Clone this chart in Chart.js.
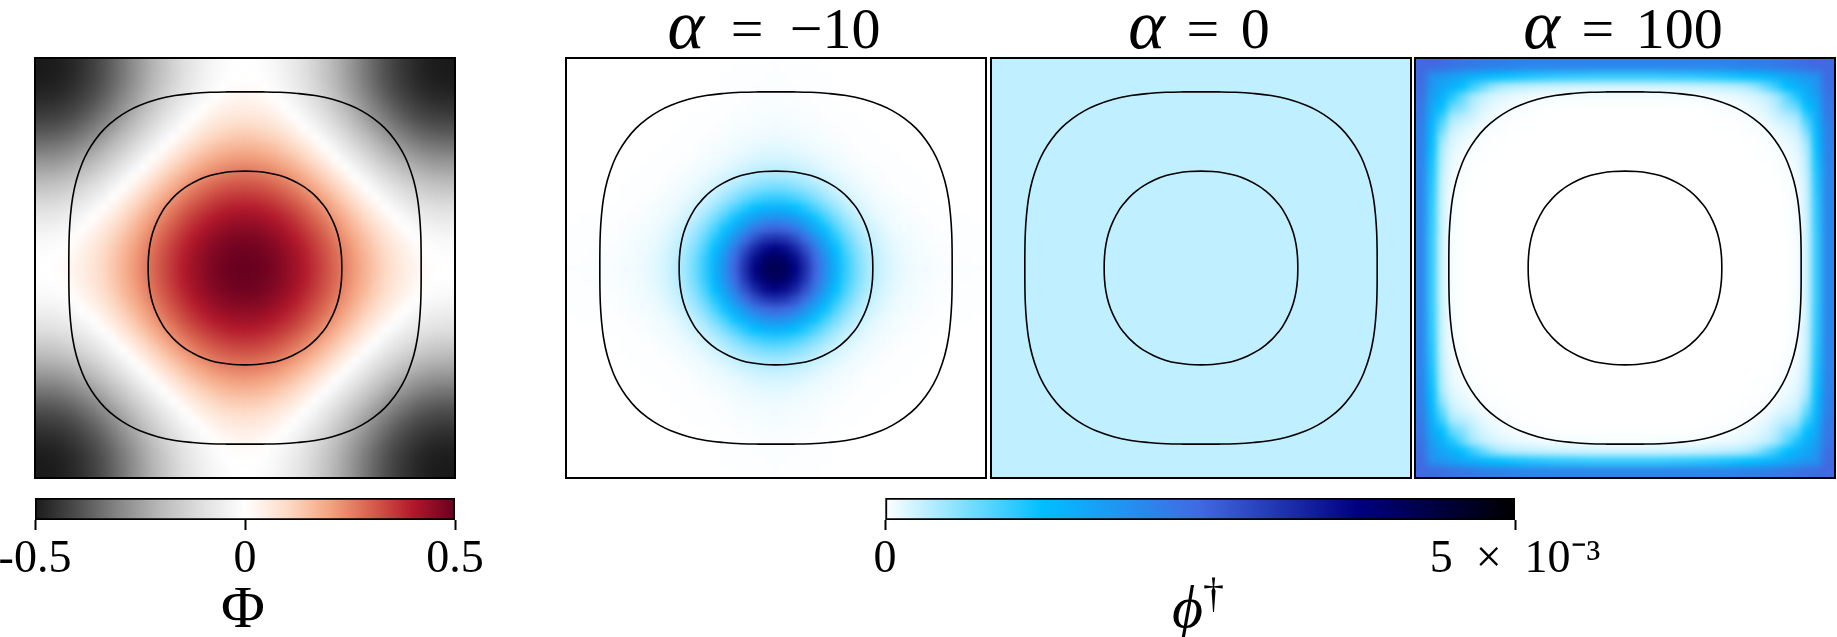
<!DOCTYPE html>
<html>
<head>
<meta charset="utf-8">
<script src="https://cdn.jsdelivr.net/npm/chart.js@4/dist/chart.umd.min.js"></script>
<style>
html,body{margin:0;padding:0;background:#fff;}
#page{position:relative;width:1837px;height:637px;overflow:hidden;font-family:"Liberation Serif",serif;color:#000;}
.heat{position:absolute;overflow:hidden;width:420px;height:420px;top:58px;}
.heat canvas{position:absolute;left:-20px;top:-20px;filter:blur(3.5px);}
.over{position:absolute;top:56px;}
.cbar{position:absolute;top:490px;}
.txt{position:absolute;white-space:pre;line-height:1;transform:translateX(-50%);will-change:transform;}
.title{font-size:58px;top:0px;word-spacing:7px;}
.title i{font-size:70px;line-height:50px;}
.lab{font-size:60px;top:577px;}
.lab sup{font-size:42px;line-height:0;vertical-align:20px;}
</style>
</head>
<body>
<div id="page">
  <div class="txt title" style="left:774px;word-spacing:12px"><i>α</i> = −10</div>
  <div class="txt title" style="left:1199px"><i>α</i> = 0</div>
  <div class="txt title" style="left:1623px"><i>α</i> = 100</div>
  <div class="txt lab" style="left:243px">Φ</div>
  <div class="txt lab" style="left:1198px"><i>ϕ</i><sup>†</sup></div>
</div>
<script>
// Triangular tables: row j (centre -> edge), entry i <= j. The picture is symmetric about both axes and the diagonal.
const potentialRows = [
[.500],
[.497,.494],
[.488,.485,.476],
[.473,.470,.461,.446],
[.452,.449,.440,.425,.404],
[.427,.424,.415,.400,.379,.354],
[.397,.394,.385,.370,.349,.324,.294],
[.363,.360,.351,.336,.315,.290,.260,.226],
[.327,.324,.315,.300,.279,.254,.224,.190,.154],
[.289,.286,.277,.262,.241,.216,.186,.152,.116,.078],
[.250,.247,.238,.223,.202,.177,.147,.113,.077,.039,0],
[.211,.208,.199,.184,.163,.138,.108,.074,.038,0,-.039,-.078],
[.173,.170,.161,.146,.125,.100,.070,.036,0,-.038,-.077,-.116,-.154],
[.137,.134,.125,.110,.089,.064,.034,0,-.036,-.074,-.113,-.152,-.190,-.226],
[.103,.100,.091,.076,.055,.030,0,-.034,-.070,-.108,-.147,-.186,-.224,-.260,-.294],
[.073,.070,.061,.046,.025,0,-.030,-.064,-.100,-.138,-.177,-.216,-.254,-.290,-.324,-.354],
[.048,.045,.036,.021,0,-.025,-.055,-.089,-.125,-.163,-.202,-.241,-.279,-.315,-.349,-.379,-.404],
[.027,.024,.015,0,-.021,-.046,-.076,-.110,-.146,-.184,-.223,-.262,-.300,-.336,-.370,-.400,-.425,-.446],
[.012,.009,0,-.015,-.036,-.061,-.091,-.125,-.161,-.199,-.238,-.277,-.315,-.351,-.385,-.415,-.440,-.461,-.476],
[.003,0,-.009,-.024,-.045,-.070,-.100,-.134,-.170,-.208,-.247,-.286,-.324,-.360,-.394,-.424,-.449,-.470,-.485,-.494],
[0,-.003,-.012,-.027,-.048,-.073,-.103,-.137,-.173,-.211,-.250,-.289,-.327,-.363,-.397,-.427,-.452,-.473,-.488,-.497,-.500]
];
// phi-dagger, in units of 1e-3
const alphaMinus10Rows = [
[4.23],
[4.09,3.97],
[3.73,3.61,3.28],
[3.18,3.08,2.81,2.40],
[2.55,2.47,2.25,1.92,1.54],
[1.96,1.90,1.73,1.48,1.19,.91],
[1.43,1.39,1.26,1.08,.87,.67,.49],
[1.00,.97,.88,.76,.61,.47,.34,.24],
[.69,.67,.61,.52,.42,.32,.23,.16,.11],
[.46,.45,.41,.35,.28,.21,.16,.11,.08,.05],
[.31,.30,.27,.23,.19,.14,.10,.07,.05,.03,.02],
[.20,.20,.18,.15,.12,.09,.07,.05,.03,.02,.01,.01],
[.14,.13,.12,.10,.08,.06,.05,.03,.02,.01,.01,.01,0],
[.10,.09,.08,.07,.06,.04,.03,.02,.01,.01,.01,0,0,0],
[.07,.06,.06,.05,.04,.03,.02,.01,.01,.01,0,0,0,0,0],
[.05,.05,.04,.03,.03,.02,.01,.01,.01,0,0,0,0,0,0,0],
[.04,.03,.03,.02,.02,.01,.01,0,0,0,0,0,0,0,0,0,0],
[.03,.03,.02,.02,.01,.01,0,0,0,0,0,0,0,0,0,0,0,0],
[.02,.02,.02,.01,.01,.01,0,0,0,0,0,0,0,0,0,0,0,0,0],
[.02,.02,.01,.01,.01,.01,0,0,0,0,0,0,0,0,0,0,0,0,0,0],
[.02,.01,.01,.01,.01,0,0,0,0,0,0,0,0,0,0,0,0,0,0,0,0]
];
const alphaZeroRows = [
[.31],
[.31,.31],
[.31,.31,.31]
];
const alpha100Rows = [
[0],
[0,0],
[0,0,0],
[0,0,0,0],
[0,0,0,0,0],
[0,0,0,0,0,0],
[0,0,0,0,0,0,0],
[0,0,0,0,0,0,0,0],
[0,0,0,0,0,0,0,0,0],
[0,0,0,0,0,0,0,0,0,0],
[0,0,0,0,0,0,0,0,0,0,0],
[0,0,0,0,0,0,0,0,0,0,0,.002],
[0,0,0,0,0,0,0,0,0,0,0,.002,.004],
[0,0,0,0,0,0,0,0,0,0,.002,.004,.008,.015],
[0,0,0,0,0,0,0,0,0,.003,.006,.012,.02,.035,.06],
[.002,.002,.002,.002,.002,.002,.002,.002,.004,.008,.015,.025,.04,.07,.13,.25],
[.008,.008,.008,.008,.008,.008,.008,.012,.018,.025,.035,.05,.08,.13,.20,.35,.6],
[.04,.04,.04,.04,.045,.05,.05,.05,.06,.07,.09,.11,.15,.20,.30,.45,.75,1.10],
[.21,.21,.21,.21,.22,.22,.23,.24,.25,.27,.31,.34,.39,.52,.75,.98,1.25,1.45,1.6],
[1,1,1,1,1.02,1.03,1.04,1.06,1.09,1.11,1.15,1.19,1.24,1.30,1.37,1.47,1.59,1.70,1.83,1.89],
[2.1,2.1,2.1,2.1,2.1,2.1,2.1,2.1,2.1,2.1,2.1,2.13,2.15,2.18,2.2,2.25,2.3,2.35,2.43,2.48,2.5]
];
// Contours, one quadrant, in degrees from the panel centre
const outerContourX = [151,150.95,150.6,149.6,147.8,144.6,139.5,134.7,128.3,119.9,110,100,90,75,60,45,30,15,0];
const outerContourY = [0,15,30,45,60,75,90,100,110,119.9,128.3,134.7,139.5,144.6,147.8,149.6,150.6,150.95,151];
const innerContourX = [83,82.7,81.5,79.2,75.4,70,66.3,61,55,50,40,30,20,10,0];
const innerContourY = [0,10,20,30,40,50,55,61,66.3,70,75.4,79.2,81.5,82.7,83];

const potentialColors = ['#1a1a1a','#4d4d4d','#878787','#bababa','#e0e0e0','#ffffff','#fddbc7','#f4a582','#d6604d','#b2182b','#67001f'];
const phiColors = ['#ffffff','#00bfff','#4169e1','#000080','#000000'];
const potentialTicks = [-0.5,0,0.5];
const potentialTickLabels = ['-0.5','0','0.5'];
const phiTicks = [0,5];
const phiTickLabels = ['0','5  ×  10⁻³'];

function hex(c){return [1,3,5].map(k=>parseInt(c.substr(k,2),16));}
function colorAt(stops,t){
  t=Math.max(0,Math.min(1,t));
  const p=t*(stops.length-1), k=Math.min(Math.floor(p),stops.length-2), f=p-k;
  const a=hex(stops[k]), b=hex(stops[k+1]);
  return 'rgb('+a.map((v,n)=>Math.round(v+(b[n]-v)*f)).join(',')+')';
}
const page=document.getElementById('page');
const HALF=180, PANEL=420, MARGIN=20;
const EXT=HALF*(PANEL/2+MARGIN)/(PANEL/2);

function heatPanel(left,rows,toT,stops){
  const d=document.createElement('div');d.className='heat';d.style.left=left+'px';
  const c=document.createElement('canvas');c.width=PANEL+2*MARGIN;c.height=PANEL+2*MARGIN;
  c.style.width=c.width+'px';c.style.height=c.height+'px';
  d.appendChild(c);page.appendChild(d);
  const n=rows.length-1, step=HALF/n, pad=Math.ceil(MARGIN*HALF/(PANEL/2)/step)+1;
  const pts=[],cols=[];
  for(let jy=-n-pad;jy<=n+pad;jy++){
    for(let ix=-n-pad;ix<=n+pad;ix++){
      const a=Math.min(Math.abs(ix),n), b=Math.min(Math.abs(jy),n);
      const v=rows[Math.max(a,b)][Math.min(a,b)];
      pts.push({x:ix*step,y:jy*step});
      cols.push(colorAt(stops,toT(v)));
    }
  }
  const cellPx=step/HALF*(PANEL/2);
  new Chart(c,{type:'scatter',
    data:{datasets:[{data:pts,pointStyle:'rect',pointRadius:(cellPx/2+.6)*Math.SQRT2,pointBorderWidth:0,pointBackgroundColor:cols,clip:false}]},
    options:{responsive:false,animation:false,devicePixelRatio:1,events:[],
      layout:{padding:0},
      plugins:{legend:{display:false},tooltip:{enabled:false},title:{display:false}},
      scales:{x:{type:'linear',min:-EXT,max:EXT,display:false},y:{type:'linear',min:-EXT,max:EXT,display:false}}}});
}
function loop(xs,ys){
  const q=xs.map((x,k)=>({x:x,y:ys[k]}));
  const out=[];
  q.forEach(p=>out.push({x:p.x,y:p.y}));
  q.slice(1).forEach((_,k)=>{const p=q[q.length-2-k];out.push({x:-p.x,y:p.y});});
  q.slice(1).forEach(p=>out.push({x:-p.x,y:-p.y}));
  q.slice(1).forEach((_,k)=>{const p=q[q.length-2-k];out.push({x:p.x,y:-p.y});});
  return out;
}
const framePlugin={id:'frame',afterDraw(ch){
  const a=ch.chartArea,x=ch.ctx;x.save();x.strokeStyle='#000';x.lineWidth=2;
  x.strokeRect(a.left,a.top,a.right-a.left,a.bottom-a.top);x.restore();}};
function overPanel(left){
  const c=document.createElement('canvas');c.className='over';c.width=PANEL+4;c.height=PANEL+4;
  c.style.left=(left-2)+'px';c.style.width=c.width+'px';c.style.height=c.height+'px';page.appendChild(c);
  const line=(xs,ys)=>({data:loop(xs,ys),showLine:true,pointRadius:0,borderColor:'#000',borderWidth:1.6,tension:.4,fill:false,clip:false});
  new Chart(c,{type:'scatter',
    data:{datasets:[line(outerContourX,outerContourY),line(innerContourX,innerContourY)]},
    plugins:[framePlugin],
    options:{responsive:false,animation:false,devicePixelRatio:1,events:[],
      layout:{padding:2},
      elements:{line:{capBezierPoints:false}},
      plugins:{legend:{display:false},tooltip:{enabled:false}},
      scales:{x:{type:'linear',min:-HALF,max:HALF,display:false},y:{type:'linear',min:-HALF,max:HALF,display:false}}}});
}
function colorbar(left,width,padL,padR,name,lo,hi,ticks,labels,stops){
  const c=document.createElement('canvas');c.className='cbar';c.width=width;c.height=100;
  c.style.left=left+'px';c.style.width=width+'px';c.style.height='100px';page.appendChild(c);
  new Chart(c,{type:'bar',
    data:{labels:[name],datasets:[{
      data:[{x:[lo,hi],y:name}],
      borderColor:'#000',borderWidth:2,borderSkipped:false,
      categoryPercentage:1,barPercentage:1,
      backgroundColor(ctx){
        const a=ctx.chart.chartArea; if(!a) return '#888';
        const g=ctx.chart.ctx.createLinearGradient(a.left,0,a.right,0);
        stops.forEach((s,k)=>g.addColorStop(k/(stops.length-1),s));
        return g;
      }}]},
    options:{indexAxis:'y',responsive:false,animation:false,devicePixelRatio:1,events:[],
      layout:{padding:{left:padL,right:padR,top:8,bottom:0}},
      plugins:{legend:{display:false},tooltip:{enabled:false}},
      scales:{
        y:{type:'category',display:false,offset:true},
        x:{type:'linear',min:lo,max:hi,position:'bottom',
           afterBuildTicks(s){s.ticks=ticks.map(v=>({value:v}));},
           afterFit(s){s.height=70;},
           border:{display:false},
           grid:{drawOnChartArea:false,drawTicks:true,tickLength:10,tickWidth:2,tickColor:'#000'},
           ticks:{autoSkip:false,maxRotation:0,minRotation:0,padding:2,color:'#000',
                  font:{family:'"Liberation Serif"',size:46},
                  callback(v){return labels[ticks.indexOf(v)];}}}
      }}});
}
const phiT=v=>v/5;
heatPanel(35,potentialRows,v=>v+.5,potentialColors);
heatPanel(566,alphaMinus10Rows,phiT,phiColors);
heatPanel(991,alphaZeroRows,phiT,phiColors);
heatPanel(1415,alpha100Rows,phiT,phiColors);
[35,566,991,1415].forEach(overPanel);
colorbar(-25,565,60,85,'Φ',-.5,.5,potentialTicks,potentialTickLabels,potentialColors);
colorbar(840,780,45,105,'φ',0,5,phiTicks,phiTickLabels,phiColors);
</script>
</body>
</html>
